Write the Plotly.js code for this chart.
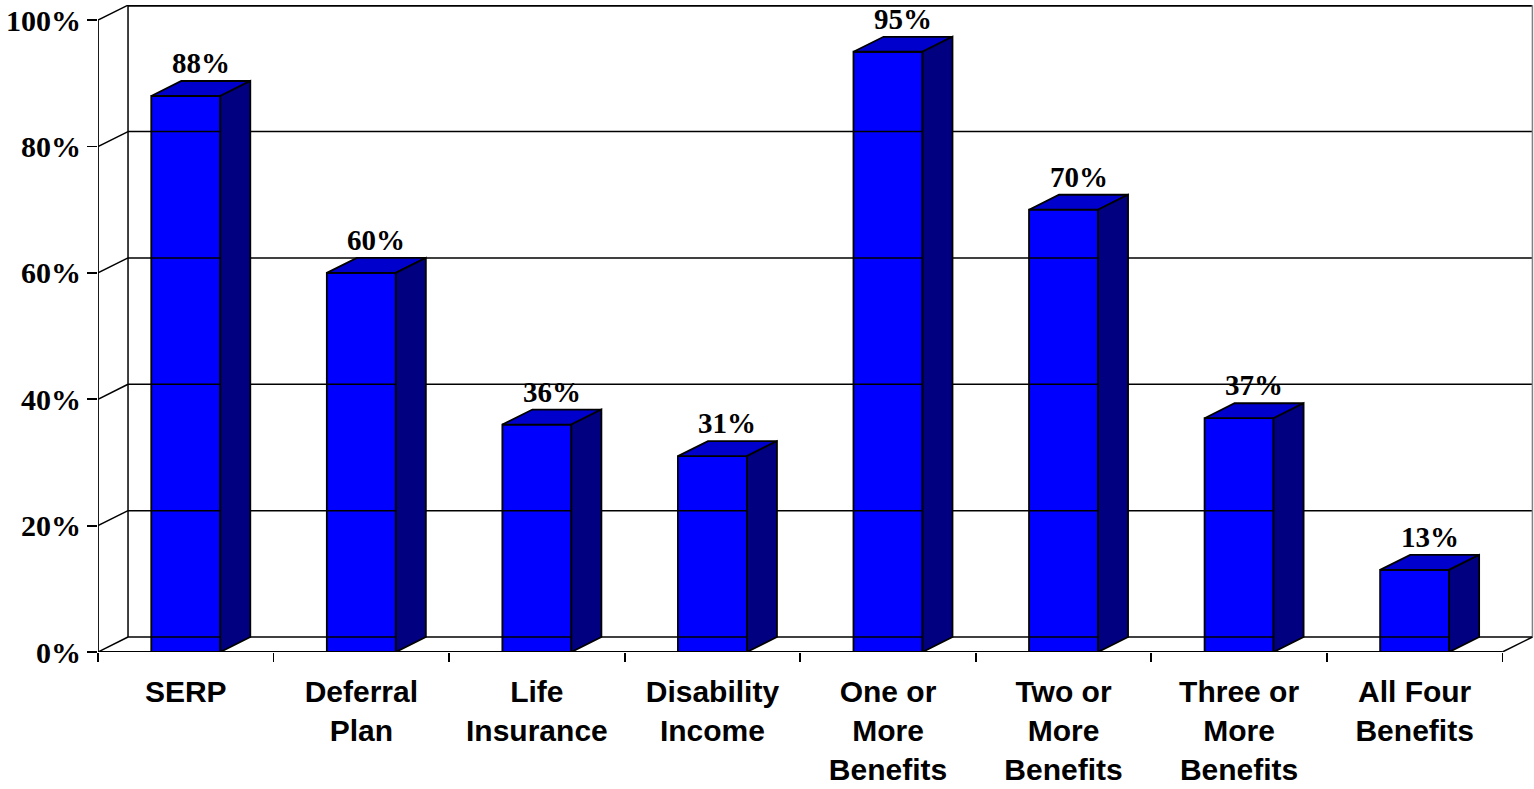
<!DOCTYPE html>
<html>
<head>
<meta charset="utf-8">
<script src="https://cdn.plot.ly/plotly-3.0.1.min.js"></script>
<style>html,body{margin:0;padding:0;background:#fff;}#chart{width:1534px;height:789px;}</style>
</head>
<body>
<div id="chart"></div>
<script>
// ---- data ----
const categories = ["SERP", "Deferral<br>Plan", "Life<br>Insurance", "Disability<br>Income",
  "One or<br>More<br>Benefits", "Two or<br>More<br>Benefits", "Three or<br>More<br>Benefits", "All Four<br>Benefits"];
const values = [88, 60, 36, 31, 95, 70, 37, 13];
const yTicks = [0, 20, 40, 60, 80, 100];

// ---- pseudo-3D styling constants ----
const DX = 0.171;   // depth offset in category units
const DY = 2.37;    // depth offset in % units
const BW = 0.393;   // bar front width
const XMIN = -0.5, XMAX = values.length - 0.5;
const FRONT = "#0000FF", TOP = "#0000CC", SIDE = "#000080";

const idx = values.map((_, i) => i);
const traces = [];
function line(xs, ys, color, width, xaxis) {
  const t = {type: "scatter", mode: "lines", x: xs, y: ys, line: {color: color, width: width},
    hoverinfo: "skip", showlegend: false, cliponaxis: false};
  if (xaxis) t.xaxis = xaxis;
  traces.push(t);
}
// back wall gridlines
yTicks.forEach(v => {
  line([XMIN + DX, XMAX + DX], [v + DY, v + DY], "#000", v === 100 ? 3 : 1.5);
});
// left wall
line([XMIN + DX, XMIN + DX], [DY, 100 + DY], "#000", 1.5);
yTicks.forEach(v => line([XMIN, XMIN + DX], [v, v + DY], "#000", 1.5));
// right wall edge
line([XMAX + DX, XMAX + DX], [DY, 100 + DY], "#808080", 1.5);
// floor right diagonal
line([XMAX, XMAX + DX], [0, DY], "#000", 1.5);

// bar front faces
traces.push({type: "bar", x: idx, y: values, width: BW, marker: {color: FRONT, line: {color: "#000", width: 1.8}},
  hoverinfo: "skip", showlegend: false});

// top & side faces
idx.forEach(i => {
  const v = values[i], l = i - BW / 2, r = i + BW / 2;
  traces.push({type: "scatter", mode: "lines", fill: "toself", fillcolor: TOP,
    x: [l, l + DX, r + DX, r, l], y: [v, v + DY, v + DY, v, v],
    line: {color: "#000", width: 1.8}, hoverinfo: "skip", showlegend: false});
  traces.push({type: "scatter", mode: "lines", fill: "toself", fillcolor: SIDE,
    x: [r, r, r + DX, r + DX, r], y: [0, v, v + DY, DY, 0],
    line: {color: "#000", width: 1.8}, hoverinfo: "skip", showlegend: false});
});

// front y axis line and floor front edge
line([XMIN, XMIN], [0, 100], "#000", 1.8);
line([XMIN, XMAX], [0, 0], "#000", 1.8, "x2");

const annotations = idx.map(i => ({
  x: i + DX / 2, y: values[i] + DY, xref: "x", yref: "y",
  text: values[i] + "%", showarrow: false, yanchor: "bottom", yshift: 0,
  font: {family: "Liberation Serif, Times New Roman, serif", size: 29, color: "#000", weight: "bold"}
}));

const xRange = [XMIN, XMAX + 0.18];
const layout = {
  width: 1534, height: 789,
  margin: {l: 98, r: 0, t: 5, b: 137},
  paper_bgcolor: "#fff", plot_bgcolor: "#fff",
  showlegend: false, hovermode: false, bargap: 0,
  xaxis: {
    range: xRange, tickmode: "array", tickvals: idx, ticktext: categories,
    ticks: "", showgrid: false, zeroline: false, showline: false,
    tickfont: {family: "Liberation Sans, Arial, sans-serif", size: 30, color: "#000", weight: "bold"},
    ticklabelstandoff: 19
  },
  xaxis2: {
    range: xRange, overlaying: "x", anchor: "y", side: "bottom",
    tickmode: "array", tickvals: idx.concat([values.length]).map(i => i - 0.5),
    ticks: "outside", ticklen: 9, tickwidth: 1.8, tickcolor: "#000",
    showticklabels: false, showgrid: false, zeroline: false, showline: false
  },
  yaxis: {
    range: [0, 102.4], tickmode: "array", tickvals: yTicks, ticktext: yTicks.map(v => v + "%"),
    ticks: "outside", ticklen: 10, tickwidth: 1.8, tickcolor: "#000",
    showgrid: false, zeroline: false, showline: false,
    tickfont: {family: "Liberation Serif, Times New Roman, serif", size: 30, color: "#000", weight: "bold"}
  },
  annotations: annotations
};

Plotly.newPlot("chart", traces, layout, {displayModeBar: false, staticPlot: true});
</script>
</body>
</html>
